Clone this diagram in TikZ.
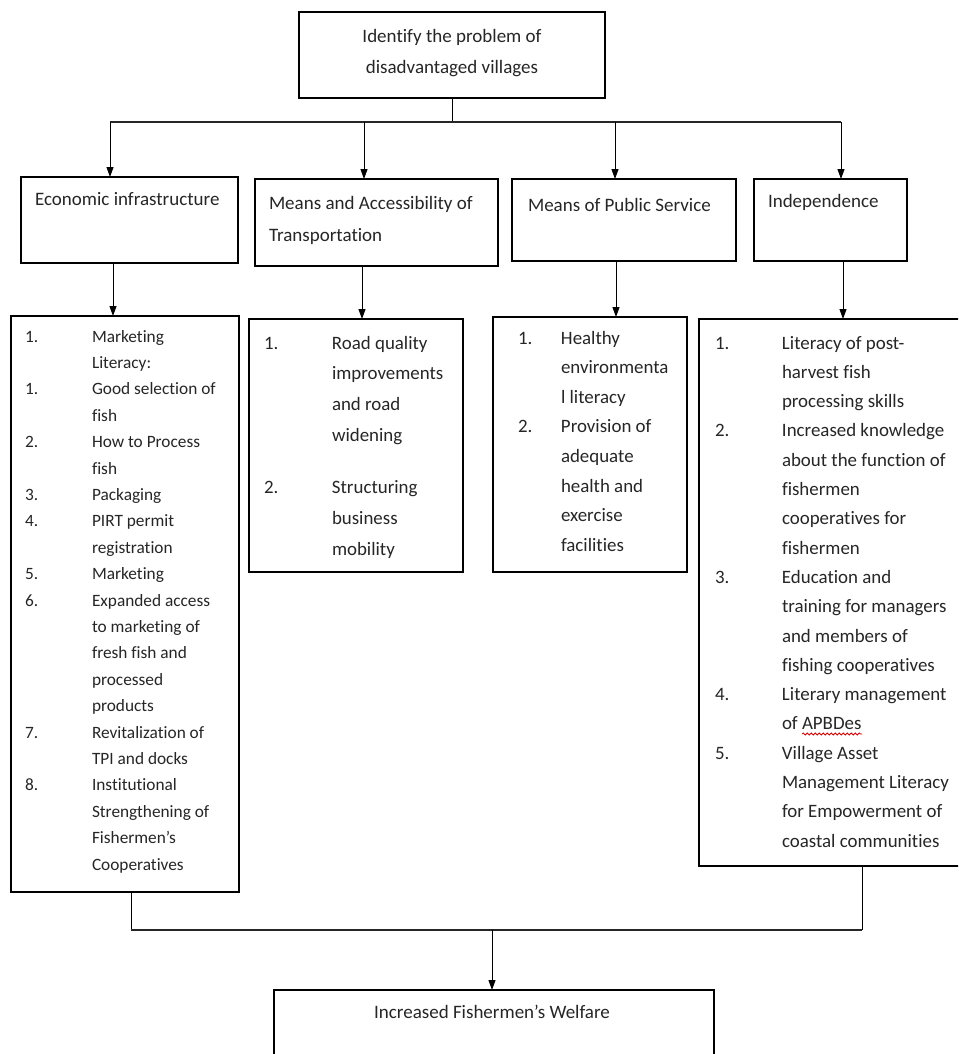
\documentclass[tikz,border=0pt]{standalone}
\usepackage{fontspec}
\setmainfont{Carlito}[Ligatures={NoCommon,NoContextual}]
\usetikzlibrary{arrows.meta,decorations.pathmorphing}
\newcommand\hfont{\fontsize{19}{31}\selectfont}
\newcommand\nbox[2]{\makebox[#1][l]{#2}}
\begin{document}
\begin{tikzpicture}[x=1pt,y=-1pt,
  box/.style={draw=black, line width=1.3pt, inner sep=0pt, outer sep=0pt, anchor=north west},
  txt/.style={inner sep=0pt, outer sep=0pt, text=black!85},
  conn/.style={draw=black, line width=1pt},
  bus/.style={draw=black!85, line width=1.6pt},
  arr/.style={draw=black, line width=1pt, -{Triangle[length=10pt,width=7pt]}},
  spell/.style={draw=red!85!black, line width=0.8pt, decorate, decoration={snake, amplitude=1pt, segment length=4pt}}]
\useasboundingbox (0,0) rectangle (958,1054);
\clip (0,0) rectangle (958,1054);
\fill[white] (0,0) rectangle (958,1054);

% boxes
\node[box, minimum width=306pt, minimum height=86pt] (top) at (299,12) {};
\node[box, minimum width=217pt, minimum height=86pt] (econ) at (21,177) {};
\node[box, minimum width=243pt, minimum height=87pt] (trans) at (255,179) {};
\node[box, minimum width=224pt, minimum height=82pt] (pub) at (512,179) {};
\node[box, minimum width=153pt, minimum height=82pt] (ind) at (754,179) {};
\node[box, minimum width=228pt, minimum height=576pt] (L1) at (11,316) {};
\node[box, minimum width=214pt, minimum height=253pt] (L2) at (249,319) {};
\node[box, minimum width=194pt, minimum height=255pt] (L3) at (493,317) {};
\node[box, minimum width=281pt, minimum height=547pt] (L4) at (699,319) {};
\node[box, minimum width=440pt, minimum height=90pt] (bot) at (274,990) {};

% texts
\node[txt, anchor=base] (topT) at (452,43) {\hfont\begin{tabular}[t]{@{}c@{}}Identify the problem of\\disadvantaged villages\end{tabular}};
\node[txt, anchor=base west] (econT) at (35,205) {\hfont Economic infrastructure};
\node[txt, anchor=base west] (transT) at (269,209) {\fontsize{19}{32}\selectfont\begin{tabular}[t]{@{}l@{}}Means and Accessibility of\\Transportation\end{tabular}};
\node[txt, anchor=base west] (pubT) at (528,211) {\hfont Means of Public Service};
\node[txt, anchor=base west] (indT) at (768,207) {\hfont Independence};
\node[txt, anchor=base] (botT) at (492,1018) {\hfont Increased Fishermen's Welfare};

\node[txt, anchor=base west] (L1T) at (25,342) {\fontsize{17.3}{26.4}\selectfont\begin{tabular}[t]{@{}l@{}l@{}}
\nbox{67pt}{1.} & Marketing\\
 & Literacy:\\
\nbox{67pt}{1.} & Good selection of\\
 & fish\\
\nbox{67pt}{2.} & How to Process\\
 & fish\\
\nbox{67pt}{3.} & Packaging\\
\nbox{67pt}{4.} & PIRT permit\\
 & registration\\
\nbox{67pt}{5.} & Marketing\\
\nbox{67pt}{6.} & Expanded access\\
 & to marketing of\\
 & fresh fish and\\
 & processed\\
 & products\\
\nbox{67pt}{7.} & Revitalization of\\
 & TPI and docks\\
\nbox{67pt}{8.} & Institutional\\
 & Strengthening of\\
 & Fishermen's\\
 & Cooperatives
\end{tabular}};

\node[txt, anchor=base west] (L2T) at (264,349) {\fontsize{18.9}{30.7}\selectfont\begin{tabular}[t]{@{}l@{}l@{}}
\nbox{68pt}{1.} & Road quality\\
 & improvements\\
 & and road\\
 & widening\\[22pt]
\nbox{68pt}{2.} & Structuring\\
 & business\\
 & mobility
\end{tabular}};

\node[txt, anchor=base west] (L3T) at (518,344) {\fontsize{18.9}{29.6}\selectfont\begin{tabular}[t]{@{}l@{}l@{}}
\nbox{43pt}{1.} & Healthy\\
 & environmenta\\
 & l literacy\\
\nbox{43pt}{2.} & Provision of\\
 & adequate\\
 & health and\\
 & exercise\\
 & facilities
\end{tabular}};

\node[txt, anchor=base west] (L4T) at (715,349) {\fontsize{18.9}{29.3}\selectfont\begin{tabular}[t]{@{}l@{}l@{}}
\nbox{67pt}{1.} & Literacy of post-\\
 & harvest fish\\
 & processing skills\\
\nbox{67pt}{2.} & Increased knowledge\\
 & about the function of\\
 & fishermen\\
 & cooperatives for\\
 & fishermen\\
\nbox{67pt}{3.} & Education and\\
 & training for managers\\
 & and members of\\
 & fishing cooperatives\\
\nbox{67pt}{4.} & Literary management\\
 & of APBDes\\
\nbox{67pt}{5.} & Village Asset\\
 & Management Literacy\\
 & for Empowerment of\\
 & coastal communities
\end{tabular}};

% spell-check underline under "APBDes"
\draw[spell] (802,734) -- (862,734);

% connector positions
\coordinate (busy) at (0,122);
\coordinate (busb) at (0,930);
\coordinate (a1) at (110,0);
\coordinate (a2) at (364,0);
\coordinate (a3) at (615,0);
\coordinate (a4) at (841,0);
\coordinate (b1) at (113,0);
\coordinate (b2) at (362,0);
\coordinate (b3) at (616,0);
\coordinate (b4) at (843,0);
\coordinate (c1) at (131,0);
\coordinate (c2) at (862,0);
\coordinate (d) at (492,0);

\draw[conn] (top.south) -- (top.south |- busy);
\draw[bus] (a1 |- busy) -- (a4 |- busy);
\draw[arr] (a1 |- busy) -- (a1 |- econ.north);
\draw[arr] (a2 |- busy) -- (a2 |- trans.north);
\draw[arr] (a3 |- busy) -- (a3 |- pub.north);
\draw[arr] (a4 |- busy) -- (a4 |- ind.north);

\draw[arr] (b1 |- econ.south) -- (b1 |- L1.north);
\draw[arr] (b2 |- trans.south) -- (b2 |- L2.north);
\draw[arr] (b3 |- pub.south) -- (b3 |- L3.north);
\draw[arr] (b4 |- ind.south) -- (b4 |- L4.north);

\draw[conn] (c1 |- L1.south) -- (c1 |- busb);
\draw[conn] (c2 |- L4.south) -- (c2 |- busb);
\draw[bus] (c1 |- busb) -- (c2 |- busb);
\draw[arr] (d |- busb) -- (d |- bot.north);
\end{tikzpicture}
\end{document}
